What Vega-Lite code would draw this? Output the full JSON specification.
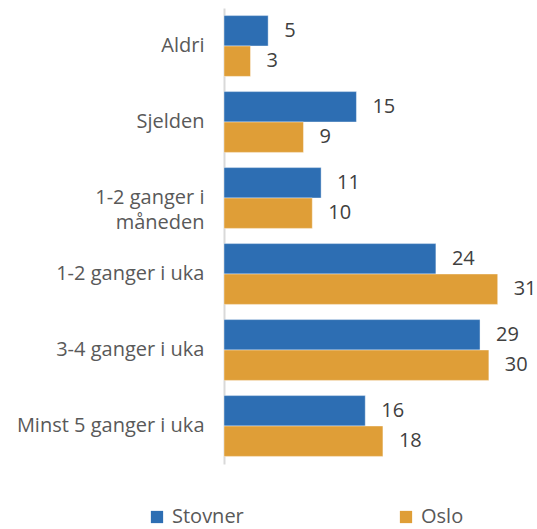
{
  "$schema": "https://vega.github.io/schema/vega-lite/v6.json",
  "autosize": "none",
  "padding": {"left": 224, "top": 8, "right": 4, "bottom": 65},
  "width": 309,
  "height": 456,
  "config": {"view": {"stroke": null}, "font": "Open Sans"},
  "data": {"values": [
    {"category": "Aldri", "series": "Stovner", "value": 5},
    {"category": "Aldri", "series": "Oslo", "value": 3},
    {"category": "Sjelden", "series": "Stovner", "value": 15},
    {"category": "Sjelden", "series": "Oslo", "value": 9},
    {"category": "1-2 ganger i måneden", "series": "Stovner", "value": 11},
    {"category": "1-2 ganger i måneden", "series": "Oslo", "value": 10},
    {"category": "1-2 ganger i uka", "series": "Stovner", "value": 24},
    {"category": "1-2 ganger i uka", "series": "Oslo", "value": 31},
    {"category": "3-4 ganger i uka", "series": "Stovner", "value": 29},
    {"category": "3-4 ganger i uka", "series": "Oslo", "value": 30},
    {"category": "Minst 5 ganger i uka", "series": "Stovner", "value": 16},
    {"category": "Minst 5 ganger i uka", "series": "Oslo", "value": 18}
  ]},
  "encoding": {
    "y": {
      "field": "category", "type": "nominal", "sort": null,
      "scale": {"paddingInner": 0.2, "paddingOuter": 0.1},
      "axis": {
        "title": null, "ticks": false, "domainColor": "#d9d9d9", "domainWidth": 2,
        "labelFontSize": 20, "labelColor": "#595959", "labelPadding": 20, "labelLimit": 300,
        "labelExpr": "datum.label == '1-2 ganger i måneden' ? ['1-2 ganger i', 'måneden  '] : datum.label",
        "labelLineHeight": 25
      }
    },
    "yOffset": {"field": "series", "type": "nominal", "sort": ["Stovner", "Oslo"]},
    "x": {"field": "value", "type": "quantitative", "scale": {"domain": [0, 35]}, "axis": null}
  },
  "layer": [
    {
      "mark": {"type": "bar", "stroke": "#ffffff", "strokeOpacity": 0.4, "strokeWidth": 1},
      "encoding": {
        "color": {
          "field": "series", "type": "nominal", "sort": ["Stovner", "Oslo"],
          "scale": {"domain": ["Stovner", "Oslo"], "range": ["#2d6eb3", "#df9e37"]},
          "legend": {
            "title": null, "orient": "none", "direction": "horizontal",
            "legendX": -77, "legendY": 499,
            "symbolType": "square", "symbolSize": 150, "symbolStrokeWidth": 0,
            "labelFontSize": 20, "labelColor": "#595959", "labelOffset": 5,
            "columnPadding": 152
          }
        }
      }
    },
    {
      "mark": {"type": "text", "align": "left", "dx": 16, "fontSize": 20, "color": "#404040"},
      "encoding": {"text": {"field": "value", "type": "quantitative"}}
    }
  ]
}
